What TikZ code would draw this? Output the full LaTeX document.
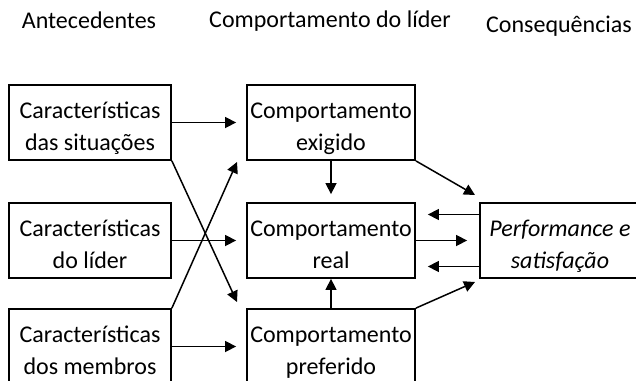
\documentclass[tikz,border=0pt]{standalone}
\usepackage{fontspec}
\setmainfont{Carlito}
\usetikzlibrary{arrows.meta}

\newcommand\duaslinhas[2]{\rule{0pt}{30pt}#1\\\rule[-7pt]{0pt}{7pt}#2}

\tikzset{
  caixa/.style={draw, line width=1.8pt, minimum width=162pt, minimum height=75pt,
    inner sep=0pt, align=center, font=\fontsize{24}{32}\selectfont},
  titulo/.style={font=\fontsize{24}{30}\selectfont, inner sep=0pt, anchor=base},
  seta/.style={line width=1.5pt, -{Triangle[length=11pt,width=11pt]}}
}

\begin{document}
\begin{tikzpicture}[x=1pt,y=-1pt]
\useasboundingbox (0,0) rectangle (636,380);
\clip (0,0) rectangle (636,380);
\node[titulo] (hant) at (89,28) {Antecedentes};
\node[titulo] (hcomp) at (330,27) {Comportamento do líder};
\node[titulo] (hcons) at (559,32) {Consequências};
\node[caixa] (sit) at (90,122.5) {\duaslinhas{Características}{das situações}};
\node[caixa] (lid) at (90,240.5) {\duaslinhas{Características}{do líder}};
\node[caixa] (memb) at (90,346.5) {\duaslinhas{Características}{dos membros}};
\node[caixa, minimum width=168pt] (exig) at (331,122.5) {\duaslinhas{Comportamento}{exigido}};
\node[caixa, minimum width=168pt] (real) at (331,240.5) {\duaslinhas{Comportamento}{real}};
\node[caixa, minimum width=168pt] (pref) at (331,346.5) {\duaslinhas{Comportamento}{preferido}};
\node[caixa, minimum width=160pt, font=\fontsize{24}{32}\selectfont\itshape] (perf) at (560,240.5) {\duaslinhas{Performance e}{satisfação}};
\coordinate (x1) at (237,302);
\coordinate (x2) at (237,162);
\coordinate (p1) at (475,195);
\coordinate (p2) at (475,282);
\draw[seta, shorten >=10pt] (sit.east) -- (sit.east -| exig.west);
\draw[seta, shorten >=10pt] (lid.east) -- (lid.east -| real.west);
\draw[seta, shorten >=10pt] (memb.east) -- (memb.east -| pref.west);
\draw[seta] (sit.south east) -- (x1);
\draw[seta] (memb.north east) -- (x2);
\draw[seta, shorten >=8pt] (exig.south) -- (real.north);
\draw[seta] (pref.north) -- (real.south);
\draw[seta] (exig.south east) -- (p1);
\draw[seta] (pref.north east) -- (p2);
\draw[seta, shorten >=12pt] (real.east) -- (real.east -| perf.west);
\draw[seta, shorten >=12pt] ([yshift=-26pt]perf.west) -- ([yshift=-26pt]perf.west -| real.east);
\draw[seta, shorten >=12pt] ([yshift=26pt]perf.west) -- ([yshift=26pt]perf.west -| real.east);
\end{tikzpicture}
\end{document}
